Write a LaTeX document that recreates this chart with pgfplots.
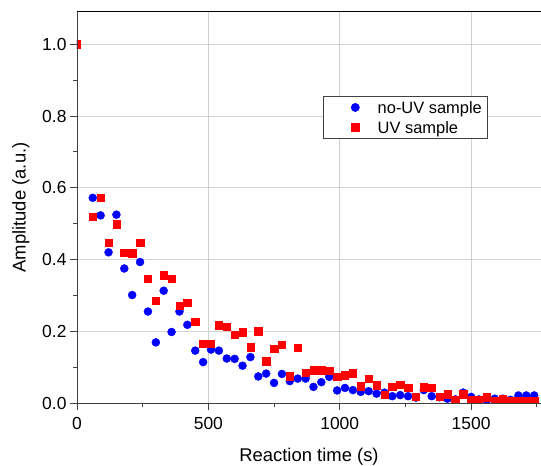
\documentclass[border=0pt]{standalone}
\usepackage{pgfplots}
\pgfplotsset{compat=1.18}
\usepackage{pgfplotstable}
\usepackage{fontspec}
\setmainfont{Liberation Sans}
\definecolor{myblue}{RGB}{0,0,255}
\definecolor{myred}{RGB}{255,0,0}
\pgfplotstableread{
t blue red
0 1.000 1.000
60 0.572 0.519
90 0.523 0.573
120 0.420 0.447
150 0.525 0.498
180 0.375 0.419
210 0.301 0.418
240 0.393 0.447
270 0.255 0.346
300 0.169 0.285
330 0.313 0.356
360 0.198 0.347
390 0.255 0.271
420 0.218 0.279
450 0.146 0.226
480 0.114 0.166
510 0.149 0.166
540 0.146 0.217
570 0.124 0.213
600 0.123 0.190
630 0.104 0.197
660 0.128 0.155
690 0.074 0.200
720 0.082 0.116
750 0.056 0.152
780 0.081 0.163
810 0.061 0.075
840 0.068 0.154
870 0.068 0.085
900 0.045 0.091
930 0.058 0.091
960 0.073 0.090
990 0.035 0.074
1020 0.042 0.078
1050 0.036 0.083
1080 0.031 0.047
1110 0.033 0.068
1140 0.026 0.050
1170 0.029 0.023
1200 0.019 0.045
1230 0.022 0.051
1260 0.019 0.042
1290 0.015 0.017
1320 0.036 0.044
1350 0.019 0.043
1380 0.016 0.017
1410 0.012 0.025
1440 0.010 0.010
1470 0.029 0.025
1500 0.017 0.008
1530 0.010 0.010
1560 0.008 0.016
1590 0.012 0.007
1620 0.012 0.011
1650 0.009 0.007
1680 0.021 0.006
1710 0.021 0.007
1740 0.021 0.006
1770 0.010 0.007
}\datatable
\begin{document}
\begin{tikzpicture}
\begin{axis}[
  name=ax,
  scale only axis,
  width=464bp, height=391bp,
  xmin=0, xmax=1766, ymin=0, ymax=1.09,
  clip=true, clip marker paths=true,
  axis line style={draw=none},
  xtick pos=bottom, ytick pos=left,
  xtick={0,500,1000,1500},
  minor xtick={250,750,1250,1750},
  ytick={0,0.2,0.4,0.6,0.8,1.0},
  minor ytick={0.1,0.3,0.5,0.7,0.9},
  tick align=outside,
  major tick length=7bp, minor tick length=4bp,
  tick style={black!75, line width=0.9bp},
  grid=major,
  major grid style={black!18, line width=0.9bp},
  scaled ticks=false,
  /pgf/number format/assume math mode=true,
  ticklabel style={font=\fontsize{17.5}{20}\selectfont},
  xticklabel style={/pgf/number format/1000 sep={}, yshift=-4bp},
  yticklabel style={/pgf/number format/.cd, fixed, fixed zerofill, precision=1},
  xlabel={Reaction time (s)},
  ylabel={Amplitude (a.u.)},
  label style={font=\fontsize{18.5}{22}\selectfont, inner sep=0pt},
  xlabel style={at={(axis description cs:0.5,0)}, anchor=north, yshift=-45bp},
  ylabel style={at={(axis description cs:0,0.5)}, anchor=north, yshift=65bp},
  legend style={at={(rel axis cs:0.53,0.785)}, anchor=north west, draw=black!75, line width=0.8bp,
    inner xsep=0pt, inner ysep=1bp, row sep=0pt,
    font=\fontsize{16.5}{19}\selectfont,
    nodes={inner xsep=5.4bp, inner ysep=2bp, text height=14.5bp, text depth=1.5bp}},
  legend cell align=left,
  legend image code/.code={\path[draw=none, fill=none] (0bp,-5bp) rectangle (49bp,5bp); \draw[#1] plot coordinates {(32bp,0bp)};},
]
\addplot[only marks, mark=*, mark size=4bp, color=myblue, mark options={draw=myblue, fill=myblue}] table[x=t, y=blue] {\datatable};
\addlegendentry{no-UV sample}
\addplot[only marks, mark=square*, mark size=3.7bp, color=myred, mark options={draw=myred, fill=myred}] table[x=t, y=red] {\datatable};
\addlegendentry{UV sample}
\end{axis}
\draw[black!75, line width=1bp] (ax.north west) -- (ax.south west) -- (ax.south east);
\draw[black, line width=1bp] (ax.north west) -- (ax.north east);
\pgfresetboundingbox
\path ([shift={(-77bp,-63bp)}]ax.south west) rectangle ([shift={(0bp,12bp)}]ax.north east);
\end{tikzpicture}
\end{document}
